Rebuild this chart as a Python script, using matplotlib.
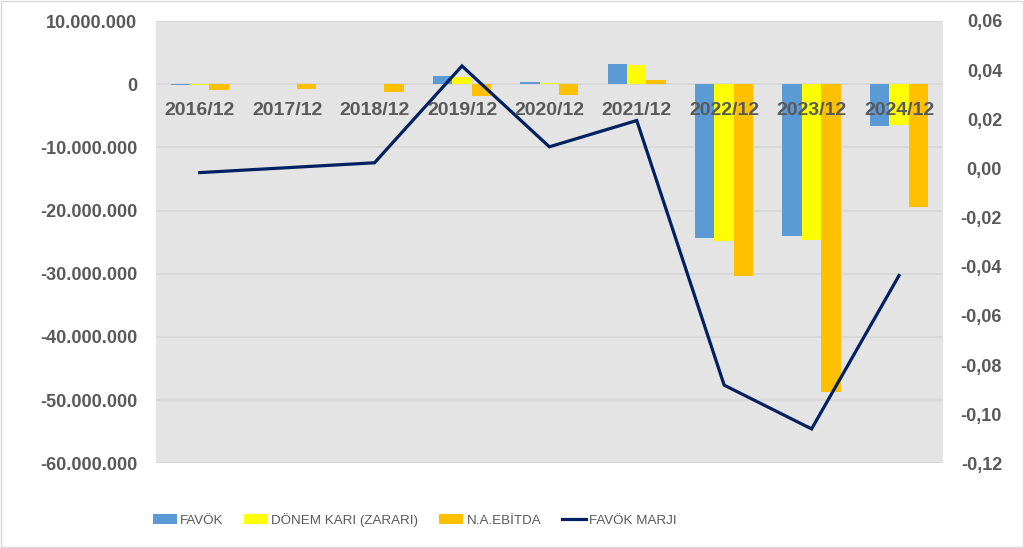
import numpy as np
import matplotlib
matplotlib.use("Agg")
import matplotlib.pyplot as plt
import matplotlib.transforms as mtransforms
from matplotlib.patches import Rectangle, Patch
from matplotlib.lines import Line2D
from matplotlib.ticker import FuncFormatter

categories = ["2016/12", "2017/12", "2018/12", "2019/12", "2020/12",
              "2021/12", "2022/12", "2023/12", "2024/12"]
favok = [-0.1e6, -0.02e6, -0.02e6, 1.3e6, 0.36e6, 3.2e6, -24.4e6, -24.1e6, -6.6e6]
donem_kari = [-0.05e6, -0.02e6, -0.02e6, 1.1e6, 0.25e6, 3.04e6, -24.8e6, -24.6e6, -6.4e6]
na_ebitda = [-0.95e6, -0.75e6, -1.27e6, -1.8e6, -1.64e6, 0.68e6, -30.4e6, -48.7e6, -19.4e6]
favok_marji = [-0.0017, 0.0003, 0.0023, 0.0417, 0.0088, 0.0195, -0.0882, -0.106, -0.0436]

series_names = ["FAVÖK", "DÖNEM KARI (ZARARI)", "N.A.EBİTDA", "FAVÖK MARJI"]
left_ticks = [10e6, 0, -10e6, -20e6, -30e6, -40e6, -50e6, -60e6]
right_ticks = [0.06, 0.04, 0.02, 0.0, -0.02, -0.04, -0.06, -0.08, -0.10, -0.12]

C_BLUE = "#5B9BD5"
C_YEL = "#FFFF00"
C_ORG = "#FFC000"
C_LINE = "#002060"
C_TXT = "#595959"
C_BG = "#E4E4E4"
C_GRID = "#D6D6D6"

TICKFONT = ["Liberation Sans", "DejaVu Sans"]
LEGFONT = ["Liberation Sans", "DejaVu Sans"]

fig = plt.figure(figsize=(10.24, 5.48), dpi=100)
fig.patch.set_facecolor("white")
fig.add_artist(Rectangle((0.001, 0.001), 0.998, 0.997, transform=fig.transFigure,
                         fill=False, edgecolor="#D9D9D9", linewidth=1.0))

ax = fig.add_axes([156/1024, 1-463.3/548, (942.7-156)/1024, (463.3-21)/548])
ax.set_facecolor(C_BG)
x = np.arange(len(categories))
w = 0.222
ax.bar(x - w, favok, w, color=C_BLUE, zorder=2)
ax.bar(x, donem_kari, w, color=C_YEL, zorder=2)
ax.bar(x + w, na_ebitda, w, color=C_ORG, zorder=2)
ax.set_xlim(-0.5, len(categories) - 0.5)
ax.set_ylim(-60e6, 10e6)
ax.set_yticks(left_ticks)
ax.yaxis.set_major_formatter(FuncFormatter(lambda v, p: f"{int(round(v)):,}".replace(",", ".")))
ax.grid(axis="y", color=C_GRID, linewidth=1.2, zorder=0)
ax.set_axisbelow(True)
ax.set_xticks([])
for s in ax.spines.values():
    s.set_visible(False)
ax.tick_params(axis="y", length=0, pad=13.5, labelsize=13, labelcolor=C_TXT)
for lab in ax.get_yticklabels():
    lab.set_family(TICKFONT)
    lab.set_fontweight("bold")

ax2 = ax.twinx()
ax2.plot(x, favok_marji, color=C_LINE, linewidth=2.3, zorder=5, solid_joinstyle="miter")
ax2.set_ylim(-0.12, 0.06)
ax2.set_yticks(right_ticks)
ax2.yaxis.set_major_formatter(FuncFormatter(lambda v, p: f"{v:.2f}".replace(".", ",").replace("-0,00", "0,00")))
for s in ax2.spines.values():
    s.set_visible(False)
ax2.tick_params(axis="y", length=0, pad=42.7, labelsize=13, labelcolor=C_TXT)
for lab in ax2.get_yticklabels():
    lab.set_family(TICKFONT)
    lab.set_fontweight("bold")
    lab.set_horizontalalignment("right")

trans = mtransforms.offset_copy(ax.transData, fig=fig, x=0, y=-26, units="dots")
for i, c in enumerate(categories):
    ax2.text(i, 0, c, transform=trans, ha="center", va="center", fontsize=14,
             color=C_TXT, family=TICKFONT, fontweight="bold", zorder=10)

handles = [Patch(facecolor=C_BLUE), Patch(facecolor=C_YEL), Patch(facecolor=C_ORG),
           Line2D([0], [0], color=C_LINE, linewidth=2.3)]
fig.legend(handles, series_names, loc="center", bbox_to_anchor=(0.405, 1-520/548),
           ncol=4, frameon=False, prop={"family": LEGFONT, "size": 9.6},
           labelcolor=C_TXT, handlelength=1.8, handleheight=0.8,
           handletextpad=0.25, columnspacing=1.55)

fig.savefig("out.png", dpi=100)
